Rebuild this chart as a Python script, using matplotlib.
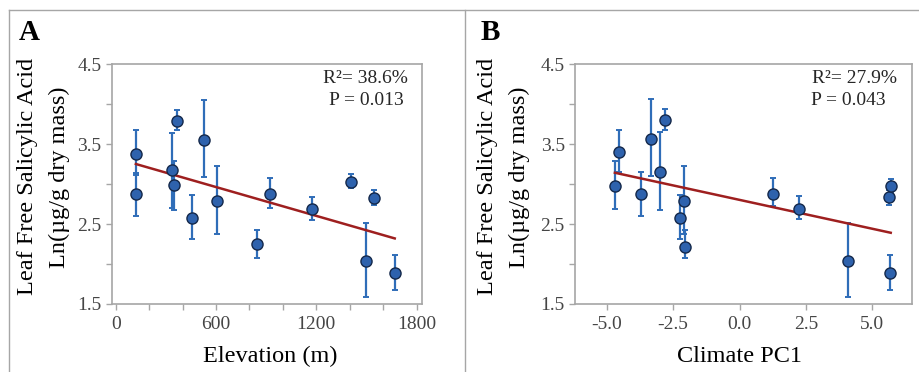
import numpy as np
import matplotlib.pyplot as plt
from matplotlib.lines import Line2D

plt.rcParams['font.family'] = ['Liberation Serif', 'DejaVu Serif']

# Panel A: elevation (m) vs leaf free SA
elev = [121, 121, 339, 349, 365, 454, 530, 606, 845, 923, 1172, 1405, 1497, 1547, 1669]
sa_a = [3.38, 2.88, 3.17, 2.99, 3.79, 2.58, 3.55, 2.79, 2.25, 2.88, 2.69, 3.03, 2.04, 2.83, 1.89]
hi_a = [3.67, 3.14, 3.64, 3.29, 3.93, 2.86, 4.05, 3.22, 2.43, 3.07, 2.84, 3.12, 2.51, 2.93, 2.11]
lo_a = [3.11, 2.60, 2.70, 2.67, 3.67, 2.31, 3.09, 2.37, 2.08, 2.70, 2.55, 2.95, 1.59, 2.74, 1.675]
fit_a = (3.323, -0.000601)  # intercept, slope

# Panel B: climate PC1 vs leaf free SA
pc1 = [-4.69, -4.54, -3.71, -3.33, -2.99, -2.80, -2.25, -2.09, -2.06, 1.25, 2.23, 4.10, 5.63, 5.69, 5.66]
sa_b = [2.98, 3.40, 2.875, 3.56, 3.15, 3.80, 2.58, 2.79, 2.21, 2.875, 2.69, 2.04, 2.84, 2.975, 1.89]
hi_b = [3.29, 3.67, 3.15, 4.06, 3.65, 3.94, 2.86, 3.23, 2.43, 3.07, 2.85, 2.51, 2.93, 3.06, 2.11]
lo_b = [2.69, 3.15, 2.60, 3.10, 2.67, 3.67, 2.31, 2.37, 2.08, 2.72, 2.56, 1.59, 2.74, 2.90, 1.67]
fit_b = (2.802, -0.0723)

ylab1 = 'Leaf Free Salicylic Acid'
ylab2 = 'Ln(\u00b5g/g dry mass)'

GRAY = '#a6a6a6'
BLUE = '#2f6db8'
FILL = '#2e62ad'
EDGE = '#14284a'
RED = '#9e1f1f'


def panel(ax, x, y, lo, hi, fit, stats):
    x = np.array(x)
    y = np.array(y)
    yerr = [y - np.array(lo), np.array(hi) - y]
    ax.errorbar(x, y, yerr=yerr, fmt='none', ecolor=BLUE, elinewidth=1.6,
                capsize=2.5, capthick=1.4, zorder=2)
    xs = np.array([x.min(), x.max()])
    ax.plot(xs, fit[0] + fit[1] * xs, color=RED, lw=1.8, zorder=3)
    ax.plot(x, y, 'o', ms=8, mfc=FILL, mec=EDGE, mew=1.0, zorder=4)
    ax.set_ylim(1.5, 4.5)
    yt = np.arange(1.5, 4.51, 0.5)
    ax.set_yticks(yt)
    ax.set_yticklabels(['%.1f' % v if i % 2 == 0 else '' for i, v in enumerate(yt)])
    for s in ax.spines.values():
        s.set_color(GRAY)
        s.set_linewidth(1.2)
    ax.tick_params(colors=GRAY, labelcolor='#454545', labelsize=14, length=4, width=1)
    ax.tick_params(axis='x', pad=5)
    ax.text(0.955, 0.975, stats[0], transform=ax.transAxes, ha='right', va='top',
            fontsize=14, color='#262626')
    ax.text(0.70, 0.885, stats[1], transform=ax.transAxes, ha='left', va='top',
            fontsize=14, color='#262626')


fig = plt.figure(figsize=(9.2, 3.72), dpi=100)

axA = fig.add_axes([0.1217, 0.1828, 0.337, 0.645])
panel(axA, elev, sa_a, lo_a, hi_a, fit_a, ['R\u00b2= 38.6%', 'P = 0.013'])
axA.set_xlim(-22, 1832)
axA.set_xticks(np.arange(0, 1801, 200))
axA.set_xticklabels([str(v) if v % 600 == 0 else '' for v in range(0, 1801, 200)])

axB = fig.add_axes([0.6253, 0.1828, 0.3663, 0.645])
panel(axB, pc1, sa_b, lo_b, hi_b, fit_b, ['R\u00b2= 27.9%', 'P = 0.043'])
axB.set_xlim(-6.18, 6.5)
axB.set_xticks([-5, -2.5, 0, 2.5, 5])
axB.set_xticklabels(['-5.0', '-2.5', '0.0', '2.5', '5.0'])

# axis titles
fig.text(270 / 920, 1 - 356 / 372, 'Elevation (m)', ha='center', va='center', fontsize=17.5)
fig.text(740 / 920, 1 - 356 / 372, 'Climate PC1', ha='center', va='center', fontsize=17.5)
for x0 in (0, 460):
    fig.text((x0 + 28) / 920, 1 - 176 / 372, ylab1, rotation=90, ha='center', va='center', fontsize=17.5)
    fig.text((x0 + 59) / 920, 1 - 177 / 372, ylab2, rotation=90, ha='center', va='center', fontsize=17.5)

fig.text(19 / 920, 1 - 32 / 372, 'A', fontsize=21, fontweight='bold', va='center')
fig.text(481 / 920, 1 - 32 / 372, 'B', fontsize=21, fontweight='bold', va='center')

# outer frame
fig.add_artist(Line2D([9.5 / 920, 1], [1 - 10 / 372] * 2, color=GRAY, lw=1, transform=fig.transFigure))
fig.add_artist(Line2D([9.5 / 920] * 2, [0, 1 - 10 / 372], color=GRAY, lw=1, transform=fig.transFigure))
fig.add_artist(Line2D([465 / 920] * 2, [0, 1 - 10 / 372], color=GRAY, lw=1, transform=fig.transFigure))

fig.savefig('out.png', dpi=100)
